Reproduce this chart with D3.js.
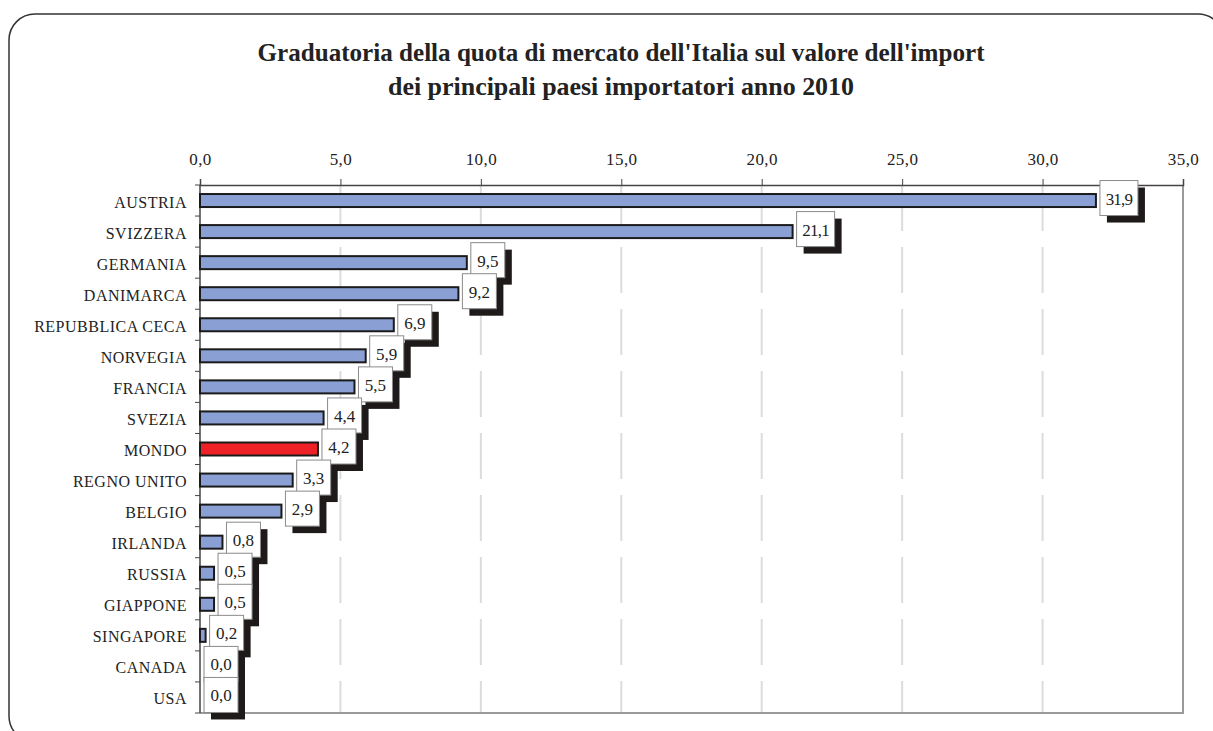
<!DOCTYPE html>
<html>
<head>
<meta charset="utf-8">
<script src="https://cdn.jsdelivr.net/npm/d3@7"></script>
<style>
  html, body { margin: 0; padding: 0; background: #fff; }
  svg { display: block; }
  text { font-family: "Liberation Serif", "Times New Roman", serif; fill: #222; }
</style>
</head>
<body>
<svg id="chart" width="1213" height="731"></svg>
<script>
// Quota di mercato dell'Italia sull'import dei paesi, anno 2010 (%)
const countries = ["AUSTRIA", "SVIZZERA", "GERMANIA", "DANIMARCA", "REPUBBLICA CECA",
  "NORVEGIA", "FRANCIA", "SVEZIA", "MONDO", "REGNO UNITO", "BELGIO", "IRLANDA",
  "RUSSIA", "GIAPPONE", "SINGAPORE", "CANADA", "USA"];
const shares = [31.9, 21.1, 9.5, 9.2, 6.9, 5.9, 5.5, 4.4, 4.2, 3.3, 2.9, 0.8, 0.5, 0.5, 0.2, 0.0, 0.0];
const xTicks = [0, 5, 10, 15, 20, 25, 30, 35];
const titleLines = [
  "Graduatoria della quota di mercato dell'Italia sul valore dell'import",
  "dei principali paesi importatori anno 2010"
];
const highlight = "MONDO";

const svg = d3.select("#chart");
const fmt = v => d3.format(".1f")(v).replace(".", ",");

// outer frame with rounded corners
svg.append("rect")
  .attr("x", 9).attr("y", 14).attr("width", 1215).attr("height", 728)
  .attr("rx", 26).attr("ry", 26)
  .attr("fill", "#fff").attr("stroke", "#333").attr("stroke-width", 1.5);

// title
svg.selectAll("text.title").data(titleLines).join("text")
  .attr("class", "title")
  .attr("x", 621).attr("y", (d, i) => 61 + i * 34)
  .attr("text-anchor", "middle")
  .attr("font-size", 25).attr("font-weight", "bold")
  .attr("textLength", (d, i) => i === 0 ? 727 : 466)
  .attr("lengthAdjust", "spacingAndGlyphs")
  .text(d => d);

const plotL = 200, plotR = 1183, plotT = 185, plotB = 713;

const x = d3.scaleLinear().domain([0, 35]).range([plotL, plotR]);
const y = d3.scaleBand().domain(countries).range([plotT, plotB]);

// dashed vertical gridlines
svg.append("g").selectAll("line").data(xTicks.filter(t => t > 0 && t < 35)).join("line")
  .attr("x1", d => x(d)).attr("x2", d => x(d))
  .attr("y1", plotT).attr("y2", plotB)
  .attr("stroke", "#dcdcdc").attr("stroke-width", 2)
  .attr("stroke-dasharray", "46 16");

// plot area right and bottom edges
svg.append("path")
  .attr("d", `M${plotR},${plotT}V${plotB}H${plotL}`)
  .attr("fill", "none").attr("stroke", "#9a9a9a").attr("stroke-width", 2);

// top value axis
const xAxis = svg.append("g")
  .attr("transform", `translate(0,${plotT})`)
  .call(d3.axisTop(x).tickValues(xTicks).tickFormat(fmt).tickSize(6).tickPadding(14));
xAxis.select(".domain").attr("stroke", "#444").attr("stroke-width", 1.5);
xAxis.selectAll(".tick line").attr("stroke", "#444");
xAxis.selectAll(".tick text")
  .attr("font-size", 17).attr("letter-spacing", 0.4).attr("fill", "#222");

// left category axis: ticks between categories
const yAxis = svg.append("g").attr("transform", `translate(${plotL},0)`);
yAxis.append("line")
  .attr("x1", 0).attr("x2", 0).attr("y1", plotT).attr("y2", plotB)
  .attr("stroke", "#444").attr("stroke-width", 1.5);
yAxis.selectAll("line.sep").data(d3.range(countries.length + 1)).join("line")
  .attr("class", "sep")
  .attr("x1", -5).attr("x2", 0)
  .attr("y1", i => plotT + i * y.step()).attr("y2", i => plotT + i * y.step())
  .attr("stroke", "#444").attr("stroke-width", 1);
yAxis.selectAll("text").data(countries).join("text")
  .attr("x", -13)
  .attr("y", d => y(d) + y.bandwidth() / 2 + 1.5)
  .attr("text-anchor", "end").attr("dominant-baseline", "central")
  .attr("font-size", 16).attr("letter-spacing", 0.5)
  .text(d => d);

const rows = countries.map((c, i) => ({ c, v: shares[i] }));

// bars
svg.append("g").selectAll("rect").data(rows).join("rect")
  .attr("x", x(0))
  .attr("y", d => y(d.c) + y.bandwidth() / 2 - 6.5)
  .attr("width", d => x(d.v) - x(0))
  .attr("height", 13)
  .attr("fill", d => d.c === highlight ? "#ee2226" : "#8aa0d5")
  .attr("stroke", "#1a1a1a").attr("stroke-width", d => d.v > 0 ? 2 : 0);

// value labels in boxes with drop shadow
const lab = svg.append("g").selectAll("g").data(rows).join("g")
  .attr("transform", d => `translate(${x(d.v) + 4},${y(d.c) + y.bandwidth() / 2 - 20})`);
lab.each(function (d) {
  const g = d3.select(this);
  const t = fmt(d.v);
  const w = t.length >= 4 ? 38 : 34, h = 35;
  g.append("rect").attr("x", 7).attr("y", 7).attr("width", w).attr("height", h)
    .attr("fill", "#1e1a1a");
  g.append("rect").attr("x", 0).attr("y", 0).attr("width", w).attr("height", h)
    .attr("fill", "#fff").attr("stroke", "#8a8a8a").attr("stroke-width", 1);
  g.append("text").attr("x", w / 2).attr("y", h / 2 + 1)
    .attr("text-anchor", "middle").attr("dominant-baseline", "central")
    .attr("font-size", 17).attr("letter-spacing", t.length >= 4 ? -0.8 : 0)
    .text(t);
});
</script>
</body>
</html>
